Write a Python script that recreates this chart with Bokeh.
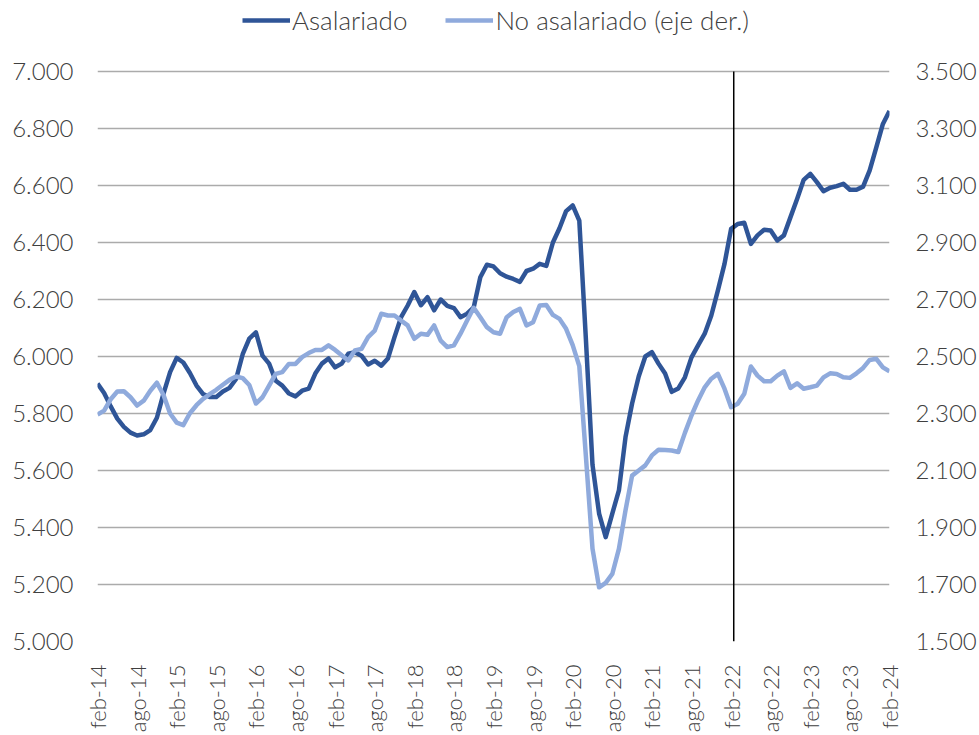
import numpy as np
from bokeh.plotting import figure
from bokeh.models import Range1d, LinearAxis, FixedTicker, Legend, LegendItem
from bokeh.embed import file_html
from bokeh.resources import INLINE

# ---------------- data ----------------
asalariado = [
    5905, 5872, 5825, 5782, 5753, 5733, 5723, 5727, 5742, 5785,
    5870, 5945, 5995, 5979, 5942, 5898, 5868, 5858, 5858, 5877,
    5890, 5921, 6008, 6063, 6085, 6003, 5975, 5915, 5898, 5870,
    5860, 5880, 5887, 5940, 5975, 5993, 5962, 5975, 6010, 6015,
    6003, 5972, 5985, 5968, 5993, 6068, 6138, 6179, 6226, 6180,
    6208, 6162, 6200, 6178, 6170, 6138, 6150, 6172, 6278, 6322,
    6316, 6292, 6280, 6272, 6262, 6300, 6308, 6325, 6318, 6400,
    6450, 6510, 6530, 6477, 6060, 5620, 5449, 5366, 5449, 5530,
    5717, 5835, 5930, 6000, 6015, 5975, 5940, 5876, 5888, 5927,
    5997, 6039, 6080, 6144, 6232, 6325, 6448, 6465, 6469, 6395,
    6425, 6445, 6442, 6407, 6425, 6489, 6553, 6620, 6641, 6612,
    6580, 6592, 6598, 6606, 6585, 6585, 6596, 6653, 6734, 6816,
    6861,
]

no_asalariado = [
    2296, 2310, 2350, 2377, 2378, 2357, 2328, 2345, 2380, 2408,
    2365, 2300, 2268, 2259, 2301, 2329, 2351, 2368, 2383, 2401,
    2418, 2430, 2424, 2400, 2335, 2357, 2398, 2439, 2445, 2474,
    2474, 2498, 2512, 2523, 2523, 2539, 2523, 2504, 2486, 2521,
    2527, 2568, 2591, 2650, 2644, 2644, 2626, 2609, 2562, 2580,
    2576, 2609, 2556, 2533, 2539, 2580, 2626, 2671, 2638, 2603,
    2585, 2580, 2638, 2656, 2667, 2609, 2620, 2679, 2681, 2646,
    2632, 2597, 2540, 2466, 2150, 1826, 1690, 1706, 1737, 1825,
    1960, 2082, 2100, 2118, 2153, 2173, 2172, 2170, 2165, 2232,
    2293, 2346, 2392, 2422, 2439, 2387, 2322, 2334, 2369, 2465,
    2433, 2413, 2413, 2433, 2448, 2390, 2406, 2387, 2392, 2398,
    2427, 2441, 2439, 2427, 2425, 2441, 2460, 2488, 2492, 2462,
    2448,
]

x_tick_labels = [
    "feb-14", "ago-14", "feb-15", "ago-15", "feb-16", "ago-16", "feb-17",
    "ago-17", "feb-18", "ago-18", "feb-19", "ago-19", "feb-20", "ago-20",
    "feb-21", "ago-21", "feb-22", "ago-22", "feb-23", "ago-23", "feb-24",
]
left_ticks = [5000, 5200, 5400, 5600, 5800, 6000, 6200, 6400, 6600, 6800, 7000]
left_tick_labels = ["5.000", "5.200", "5.400", "5.600", "5.800", "6.000",
                    "6.200", "6.400", "6.600", "6.800", "7.000"]
right_ticks = [1500, 1700, 1900, 2100, 2300, 2500, 2700, 2900, 3100, 3300, 3500]
right_tick_labels = ["1.500", "1.700", "1.900", "2.100", "2.300", "2.500",
                     "2.700", "2.900", "3.100", "3.300", "3.500"]
marker_label = "feb-22"
series_names = ["Asalariado", "No asalariado (eje der.)"]

# ---------------- chart ----------------
DARK = "#2F5597"
LIGHT = "#8FAADC"
TXT = "#404040"
FONT = "Lato Light"

W, H = 979, 735
LEFT, RIGHT, BOTTOM = 97, 88, 94
PLOT_TOP = 71                     # pixel row of the top grid line
frame_h = H - BOTTOM              # frame reaches the top of the canvas
grid_h = frame_h - PLOT_TOP
extra = PLOT_TOP / grid_h         # headroom above the top grid line (legend area)

lspan = left_ticks[-1] - left_ticks[0]
rspan = right_ticks[-1] - right_ticks[0]

n = len(asalariado)
x = list(range(n))
x_ticks = list(range(0, n, 6))

p = figure(width=W, height=H, output_backend="svg", toolbar_location=None,
           x_range=Range1d(0, n - 1),
           y_range=Range1d(left_ticks[0], left_ticks[-1] + lspan * extra),
           min_border_left=LEFT, min_border_right=RIGHT, min_border_top=0,
           min_border_bottom=BOTTOM)
p.extra_y_ranges = {"right": Range1d(right_ticks[0], right_ticks[-1] + rspan * extra)}
p.add_layout(LinearAxis(y_range_name="right"), "right")
p.outline_line_color = None
p.background_fill_color = "white"
p.border_fill_color = "white"

p.xgrid.visible = False
p.ygrid.ticker = FixedTicker(ticks=left_ticks)
p.ygrid.grid_line_color = "#ABABAB"
p.ygrid.grid_line_width = 1.6

for ax in p.axis:
    ax.axis_line_color = None
    ax.major_tick_line_color = None
    ax.minor_tick_line_color = None
    ax.major_label_text_font = FONT
    ax.major_label_text_font_size = "24px"
    ax.major_label_text_color = TXT

p.xaxis.ticker = FixedTicker(ticks=x_ticks)
p.xaxis.major_label_overrides = {t: lab for t, lab in zip(x_ticks, x_tick_labels)}
p.xaxis.major_label_orientation = np.pi / 2
p.xaxis.major_label_standoff = 17
p.xaxis.major_label_text_font_size = "22px"

p.yaxis[0].ticker = FixedTicker(ticks=left_ticks)
p.yaxis[0].major_label_overrides = {t: lab for t, lab in zip(left_ticks, left_tick_labels)}
p.yaxis[0].major_label_standoff = 18
p.yaxis[1].ticker = FixedTicker(ticks=right_ticks)
p.yaxis[1].major_label_overrides = {t: lab for t, lab in zip(right_ticks, right_tick_labels)}
p.yaxis[1].major_label_standoff = 20

r1 = p.line(x, asalariado, line_color=DARK, line_width=4.5, line_join="round")
r2 = p.line(x, no_asalariado, y_range_name="right", line_color=LIGHT,
            line_width=4.5, line_join="round")

marker_x = x_tick_labels.index(marker_label) * 6 + 0.4
p.segment(x0=[marker_x], y0=[left_ticks[0]], x1=[marker_x], y1=[left_ticks[-1]],
          line_color="black", line_width=1.5)

legend = Legend(items=[LegendItem(label=series_names[0], renderers=[r1]),
                       LegendItem(label=series_names[1], renderers=[r2])],
                orientation="horizontal", location=(145, frame_h - 36),
                label_text_font=FONT, label_text_font_size="26px",
                label_text_color=TXT, glyph_width=48, glyph_height=28,
                label_height=28, label_standoff=2, spacing=38, padding=0,
                margin=0, border_line_color=None, background_fill_alpha=0)
p.add_layout(legend)

open("out.html", "w").write(file_html(p, INLINE))
